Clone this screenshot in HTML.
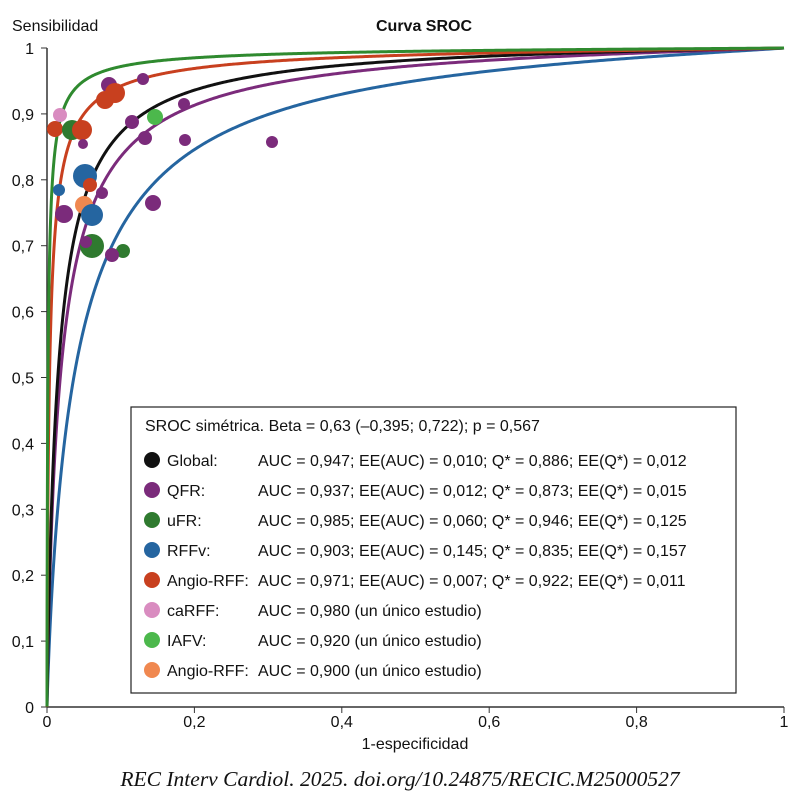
<!DOCTYPE html>
<html><head><meta charset="utf-8"><style>
body{margin:0;background:#fff;width:801px;height:799px;overflow:hidden}
text{font-family:"Liberation Sans",sans-serif;font-size:16px;fill:#111}
</style></head><body>
<svg id="s" width="801" height="799" xmlns="http://www.w3.org/2000/svg">
<text x="424" y="31" text-anchor="middle" font-weight="bold">Curva SROC</text>
<text x="12" y="31">Sensibilidad</text>
<line x1="47" y1="48" x2="47" y2="707" stroke="#333" stroke-width="1.5"/>
<line x1="47" y1="707" x2="784" y2="707" stroke="#333" stroke-width="1.5"/>
<g id="ax"></g>
<g id="curves" fill="none" stroke-width="3"></g>
<g id="pts"></g>
<text x="415" y="749" text-anchor="middle">1-especificidad</text>
<rect x="131" y="407" width="605" height="286" fill="#fff" stroke="#222" stroke-width="1.2"/>
<text x="145" y="431">SROC simétrica. Beta = 0,63 (–0,395; 0,722); p = 0,567</text>
<g id="leg"></g>
<text x="400" y="786" text-anchor="middle" style="font-family:'Liberation Serif',serif;font-style:italic;font-size:21.5px">REC Interv Cardiol. 2025. doi.org/10.24875/RECIC.M25000527</text>
</svg>
<script>
var NS="http://www.w3.org/2000/svg";
function el(p,t,a,txt){var e=document.createElementNS(NS,t);for(var k in a)e.setAttribute(k,a[k]);if(txt!=null)e.textContent=txt;document.getElementById(p).appendChild(e);return e;}
function X(v){return 47+v*737}function Y(v){return 707-v*659}
for(var i=0;i<=10;i++){var v=i/10,lab=(i==0?"0":i==10?"1":"0,"+i);
 el("ax","line",{x1:41,x2:47,y1:Y(v),y2:Y(v),stroke:"#333"});
 el("ax","text",{x:34,y:Y(v)+6,"text-anchor":"end"},lab);}
for(var i=0;i<=5;i++){var v=i/5,lab=(i==0?"0":i==5?"1":"0,"+(2*i));
 el("ax","line",{x1:X(v),x2:X(v),y1:707,y2:713,stroke:"#333"});
 el("ax","text",{x:X(v),y:727,"text-anchor":"middle"},lab);}
var cs=[["#2565a0",2.95,0.9],["#7b2b7b",3.6,0.9],["#111",4.0,0.95],["#c8401f",4.55,0.8],["#2f8a2f",5.3,0.8]];
cs.forEach(function(c){var d="";for(var k=0;k<=600;k++){var x=Math.pow(k/600,2.5);if(x<=0)x=1e-7;if(x>=1)x=1-1e-9;
 var ls=c[1]+c[2]*Math.log(x/(1-x));var s=1/(1+Math.exp(-ls));d+=(k?"L":"M")+X(x).toFixed(2)+","+Y(s).toFixed(2);}
 el("curves","path",{d:d,stroke:c[0]});});
var P="#7b2b7b",O="#c8401f",G="#2f7a2f",B="#2565a0";
var pts=[[109,85,8,P],[143,79,6,P],[115,93,10,O],[105,100,9,O],[60,115,7,"#d98cc0"],[55,129,8,O],[72,130,10,G],[82,130,10,O],
[83,144,5,P],[132,122,7,P],[155,117,8,"#4cb84c"],[145,138,7,P],[184,104,6,P],[185,140,6,P],[272,142,6,P],
[85,176,12,B],[90,185,7,O],[59,190,6,B],[102,193,6,P],[84,205,9,"#f08850"],[92,215,11,B],[64,214,9,P],[153,203,8,P],
[92,246,12,G],[86,242,6,P],[123,251,7,G],[112,255,7,P]];
pts.forEach(function(p){el("pts","circle",{cx:p[0],cy:p[1],r:p[2],fill:p[3]});});
var L=[["#111","Global:","AUC = 0,947; EE(AUC) = 0,010; Q* = 0,886; EE(Q*) = 0,012"],
[P,"QFR:","AUC = 0,937; EE(AUC) = 0,012; Q* = 0,873; EE(Q*) = 0,015"],
[G,"uFR:","AUC = 0,985; EE(AUC) = 0,060; Q* = 0,946; EE(Q*) = 0,125"],
[B,"RFFv:","AUC = 0,903; EE(AUC) = 0,145; Q* = 0,835; EE(Q*) = 0,157"],
[O,"Angio-RFF:","AUC = 0,971; EE(AUC) = 0,007; Q* = 0,922; EE(Q*) = 0,011"],
["#d98cc0","caRFF:","AUC = 0,980 (un único estudio)"],
["#4cb84c","IAFV:","AUC = 0,920 (un único estudio)"],
["#f08850","Angio-RFF:","AUC = 0,900 (un único estudio)"]];
L.forEach(function(l,i){var y=460+i*30;el("leg","circle",{cx:152,cy:y,r:8,fill:l[0]});
 el("leg","text",{x:167,y:y+6},l[1]);el("leg","text",{x:258,y:y+6},l[2]);});
</script>
</body></html>
